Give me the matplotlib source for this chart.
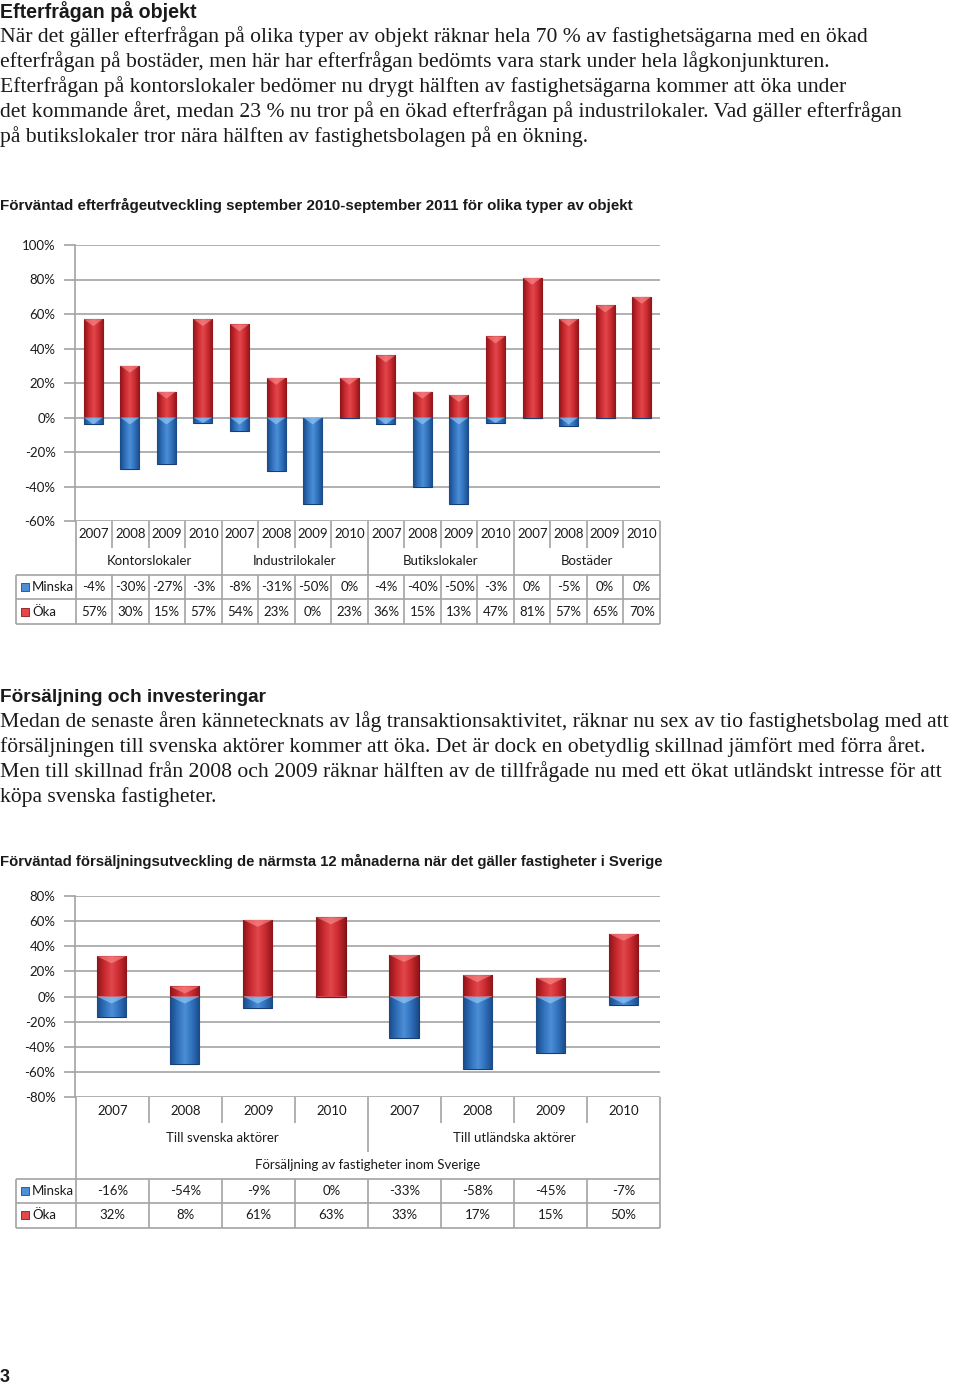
import matplotlib
matplotlib.use('Agg')
import matplotlib.pyplot as plt
import numpy as np
from matplotlib import font_manager as fm
from matplotlib.colors import LinearSegmentedColormap
from matplotlib.patches import Polygon

# ---------------- data ----------------
years = ['2007', '2008', '2009', '2010']
groups1 = ['Kontorslokaler', 'Industrilokaler', 'Butikslokaler', 'Bostäder']
minska1 = [-4, -30, -27, -3, -8, -31, -50, 0, -4, -40, -50, -3, 0, -5, 0, 0]
oka1 = [57, 30, 15, 57, 54, 23, 0, 23, 36, 15, 13, 47, 81, 57, 65, 70]
yticks1 = [-60, -40, -20, 0, 20, 40, 60, 80, 100]

groups2 = ['Till svenska aktörer', 'Till utländska aktörer']
supergroup2 = 'Försäljning av fastigheter inom Sverige'
minska2 = [-16, -54, -9, 0, -33, -58, -45, -7]
oka2 = [32, 8, 61, 63, 33, 17, 15, 50]
yticks2 = [-80, -60, -40, -20, 0, 20, 40, 60, 80]

series_names = ['Minska', 'Öka']

heading1 = 'Efterfrågan på objekt'
para1 = [
    'När det gäller efterfrågan på olika typer av objekt räknar hela 70 % av fastighetsägarna med en ökad',
    'efterfrågan på bostäder, men här har efterfrågan bedömts vara stark under hela lågkonjunkturen.',
    'Efterfrågan på kontorslokaler bedömer nu drygt hälften av fastighetsägarna kommer att öka under',
    'det kommande året, medan 23 % nu tror på en ökad efterfrågan på industrilokaler. Vad gäller efterfrågan',
    'på butikslokaler tror nära hälften av fastighetsbolagen på en ökning.',
]
title1 = 'Förväntad efterfrågeutveckling september 2010-september 2011 för olika typer av objekt'
heading2 = 'Försäljning och investeringar'
para2 = [
    'Medan de senaste åren kännetecknats av låg transaktionsaktivitet, räknar nu sex av tio fastighetsbolag med att',
    'försäljningen till svenska aktörer kommer att öka. Det är dock en obetydlig skillnad jämfört med förra året.',
    'Men till skillnad från 2008 och 2009 räknar hälften av de tillfrågade nu med ett ökat utländskt intresse för att',
    'köpa svenska fastigheter.',
]
title2 = 'Förväntad försäljningsutveckling de närmsta 12 månaderna när det gäller fastigheter i Sverige'
page_no = '3'

# ---------------- setup ----------------
W, H = 960, 1386
fig = plt.figure(figsize=(W / 100, H / 100), dpi=100)
fig.patch.set_facecolor('white')
renderer = fig.canvas.get_renderer()

available = {f.name for f in fm.fontManager.ttflist}
narrow = 'Liberation Sans Narrow' if 'Liberation Sans Narrow' in available else 'Liberation Sans'
serif = 'Liberation Serif'
chartfont = 'Lato' if 'Lato' in available else 'DejaVu Sans'

GRID = '#a3a3a3'
TXT = '#1a1a1a'
FS = 9.5


def ax_px(x0, y0, x1, y1):
    return fig.add_axes([x0 / W, 1 - y1 / H, (x1 - x0) / W, (y1 - y0) / H])


def put_text(x, y, s, size, family, weight='normal', target_w=None):
    t = fig.text(x / W, 1 - y / H, s, fontsize=size, family=family,
                 weight=weight, va='center', ha='left', color=TXT)
    if target_w is not None:
        w = t.get_window_extent(renderer).width
        t.set_fontsize(size * target_w / w)
    return t


# ---------------- text blocks ----------------
put_text(0, 12, heading1, 14, narrow, 'bold', target_w=197)
t = put_text(0, 37, para1[0], 15, serif, target_w=878)
body_size = t.get_fontsize()
for i, line in enumerate(para1[1:], 1):
    put_text(0, 37 + 25 * i, line, body_size, serif)
put_text(0, 205, title1, 11, narrow, 'bold', target_w=635)

put_text(0, 697, heading2, 14, narrow, 'bold', target_w=267)
for i, line in enumerate(para2):
    put_text(0, 722 + 25 * i, line, body_size, serif)
put_text(0, 861, title2, 11, narrow, 'bold', target_w=667)
put_text(0, 1378, page_no, 13, narrow, 'bold')

# ---------------- gradient bars ----------------
red_cmap = LinearSegmentedColormap.from_list(
    'r', ['#8e1519', '#c92a2f', '#e2474b', '#c92a2f', '#8e1519'])
blue_cmap = LinearSegmentedColormap.from_list(
    'b', ['#1a4a86', '#2f6fbb', '#4d8fd6', '#2f6fbb', '#1a4a86'])
grad = np.linspace(0, 1, 64).reshape(1, -1)


def grad_bars(ax, x, vals, width, cmap, edge, bevel_color, px_per_unit):
    bars = ax.bar(x, vals, width=width, color=cmap(0.5), edgecolor=edge,
                  linewidth=0.8, zorder=3)
    depth = 7 / px_per_unit
    for b in bars:
        h = b.get_height()
        if h == 0:
            continue
        x0 = b.get_x()
        y0 = b.get_y()
        bw = b.get_width()
        im = ax.imshow(grad, cmap=cmap, aspect='auto',
                       extent=(x0, x0 + bw, y0, y0 + h),
                       zorder=3.5, interpolation='bilinear')
        im.set_clip_path(b)
        # light bevel at the top edge of the bar
        top = y0 + h if h > 0 else y0
        d = min(depth, abs(h))
        tri = Polygon([[x0, top], [x0 + bw, top], [x0 + bw / 2, top - d]],
                      closed=True, facecolor=bevel_color, edgecolor='none',
                      alpha=0.55, zorder=3.6)
        ax.add_patch(tri)
    return bars


def style_plot(ax, ylim, ticks, n):
    ax.set_xlim(-0.5, n - 0.5)
    ax.set_ylim(*ylim)
    ax.set_yticks(ticks)
    ax.set_yticklabels([f'{v}%' for v in ticks], family=chartfont,
                       fontsize=FS, color=TXT)
    ax.set_xticks([])
    ax.yaxis.grid(True, color=GRID, lw=1.2, zorder=0)
    ax.tick_params(axis='y', length=8, color=GRID, width=1.2, pad=6)
    for s in ['top', 'right', 'bottom']:
        ax.spines[s].set_visible(False)
    ax.spines['left'].set_color(GRID)
    ax.spines['left'].set_linewidth(1.2)
    ax.set_facecolor('none')


def vline(ax, x, y0, y1):
    ax.plot([x, x], [y0, y1], color=GRID, lw=1.2, solid_capstyle='butt',
            clip_on=False)


def hline(ax, y, x0, x1):
    ax.plot([x0, x1], [y, y], color=GRID, lw=1.2, solid_capstyle='butt',
            clip_on=False)


def legend_cells(ax, xl, colw, ys, cmaps):
    for name, y, cm in zip(series_names, ys, cmaps):
        ax.scatter([xl + 9 / colw], [y], marker='s', s=32, color=cm(0.5),
                   edgecolors=cm(0.0), linewidths=0.6, clip_on=False)
        ax.text(xl + 16 / colw, y, name, ha='left', va='center',
                family=chartfont, fontsize=FS, color=TXT)


# ---------------- chart 1 ----------------
n1 = len(oka1)
x1 = np.arange(n1)
ax1 = ax_px(75, 245, 660, 521)
style_plot(ax1, (-60, 100), yticks1, n1)
ppu1 = (521 - 245) / 160
grad_bars(ax1, x1, oka1, 0.52, red_cmap, '#7a1215', '#ff9a9a', ppu1)
grad_bars(ax1, x1, minska1, 0.52, blue_cmap, '#163e72', '#a8d8ff', ppu1)

colw1 = (660 - 75) / n1
xl1 = -0.5 - 60 / colw1
tb1 = ax_px(16, 521, 660, 624)
tb1.set_xlim(xl1, n1 - 0.5)
tb1.set_ylim(103, 0)
tb1.axis('off')
vline(tb1, -0.5, 0, 103)
vline(tb1, n1 - 0.5, 0, 103)
for i in range(1, n1):
    if i % 4 == 0:
        vline(tb1, i - 0.5, 0, 54)
    else:
        vline(tb1, i - 0.5, 0, 27)
    vline(tb1, i - 0.5, 54, 103)
vline(tb1, xl1, 54, 103)
for y in (54, 78, 103):
    hline(tb1, y, xl1, n1 - 0.5)
for i in range(n1):
    tb1.text(i, 13, years[i % 4], ha='center', va='center',
             family=chartfont, fontsize=FS, color=TXT)
    tb1.text(i, 66, f'{minska1[i]}%', ha='center', va='center',
             family=chartfont, fontsize=FS, color=TXT)
    tb1.text(i, 90.5, f'{oka1[i]}%', ha='center', va='center',
             family=chartfont, fontsize=FS, color=TXT)
for g, name in enumerate(groups1):
    tb1.text(4 * g + 1.5, 40, name, ha='center', va='center',
             family=chartfont, fontsize=FS, color=TXT)
legend_cells(tb1, xl1, colw1, (66, 90.5), (blue_cmap, red_cmap))

# ---------------- chart 2 ----------------
n2 = len(oka2)
x2 = np.arange(n2)
ax2 = ax_px(75, 896, 660, 1097)
style_plot(ax2, (-80, 80), yticks2, n2)
ppu2 = (1097 - 896) / 160
grad_bars(ax2, x2, oka2, 0.4, red_cmap, '#7a1215', '#ff9a9a', ppu2)
grad_bars(ax2, x2, minska2, 0.4, blue_cmap, '#163e72', '#a8d8ff', ppu2)

colw2 = (660 - 75) / n2
xl2 = -0.5 - 60 / colw2
tb2 = ax_px(16, 1097, 660, 1228)
tb2.set_xlim(xl2, n2 - 0.5)
tb2.set_ylim(131, 0)
tb2.axis('off')
vline(tb2, -0.5, 0, 131)
vline(tb2, n2 - 0.5, 0, 131)
for i in range(1, n2):
    if i == 4:
        vline(tb2, i - 0.5, 0, 55)
    else:
        vline(tb2, i - 0.5, 0, 26)
    vline(tb2, i - 0.5, 82, 131)
vline(tb2, xl2, 82, 131)
for y in (82, 106, 131):
    hline(tb2, y, xl2, n2 - 0.5)
for i in range(n2):
    tb2.text(i, 14, years[i % 4], ha='center', va='center',
             family=chartfont, fontsize=FS, color=TXT)
    tb2.text(i, 94, f'{minska2[i]}%', ha='center', va='center',
             family=chartfont, fontsize=FS, color=TXT)
    tb2.text(i, 118, f'{oka2[i]}%', ha='center', va='center',
             family=chartfont, fontsize=FS, color=TXT)
for g, name in enumerate(groups2):
    tb2.text(4 * g + 1.5, 41, name, ha='center', va='center',
             family=chartfont, fontsize=FS, color=TXT)
tb2.text((n2 - 1) / 2, 68, supergroup2, ha='center', va='center',
         family=chartfont, fontsize=FS, color=TXT)
legend_cells(tb2, xl2, colw2, (94, 118), (blue_cmap, red_cmap))

fig.savefig('out.png', dpi=100)
